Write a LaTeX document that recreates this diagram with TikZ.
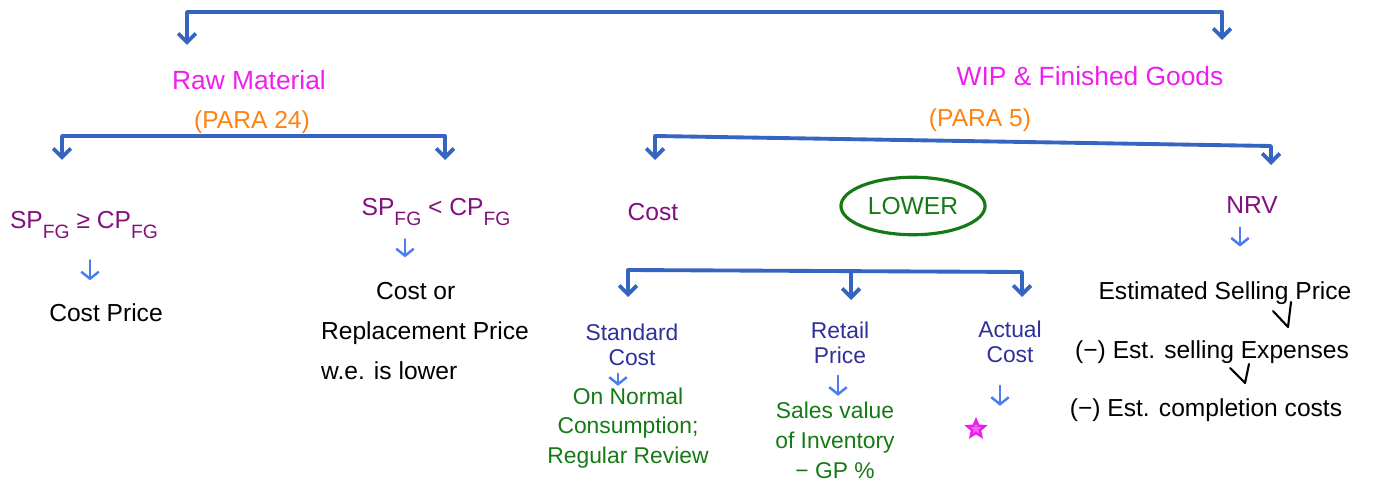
\documentclass[tikz,border=0pt]{standalone}
\usepackage{fontspec}
\setmainfont{Liberation Sans}
\usetikzlibrary{arrows.meta,shapes.geometric,calc}
\definecolor{lineblue}{HTML}{3565C0}
\definecolor{tipblue}{HTML}{4A7CF2}
\definecolor{headmag}{HTML}{EE1FEE}
\definecolor{paraorg}{HTML}{FF8210}
\definecolor{condpur}{HTML}{82107E}
\definecolor{methind}{HTML}{30309A}
\definecolor{notegrn}{HTML}{157A15}
\newcommand{\fgsub}{\raisebox{-0.7ex}{\fontsize{11}{12}\selectfont FG}}

\tikzset{
  brk/.style={draw=lineblue, line width=2.2pt, line cap=round, line join=round,
    {Straight Barb[length=5pt,width=10pt]}-{Straight Barb[length=5pt,width=10pt]}},
  brkone/.style={draw=lineblue, line width=2.2pt, line cap=round,
    -{Straight Barb[length=5pt,width=10pt]}},
  hop/.style={draw=tipblue, line width=1.4pt, line cap=round,
    -{Straight Barb[length=4pt,width=10pt]}},
  tickmk/.style={draw=black, line width=1.2pt, line cap=round, line join=round},
  headtxt/.style={text=headmag, inner sep=1pt, font=\fontsize{15}{18}\selectfont},
  paratxt/.style={text=paraorg, inner sep=1pt, font=\fontsize{14}{17}\selectfont},
  condtxt/.style={text=condpur, inner sep=1pt, font=\fontsize{14}{17}\selectfont},
  bodytxt/.style={text=black, inner sep=1pt, font=\fontsize{14}{23}\selectfont},
  methtxt/.style={text=methind, inner sep=1pt, align=center, font=\fontsize{13}{14}\selectfont},
  notetxt/.style={text=notegrn, inner sep=1pt, align=center, font=\fontsize{13}{17}\selectfont},
  lowtxt/.style={text=notegrn, ellipse, draw=notegrn, line width=1.8pt,
    minimum width=2.3cm, minimum height=1.15cm, font=\fontsize{14}{17}\selectfont},
}

\begin{document}
\begin{tikzpicture}[x=0.02cm,y=-0.02cm]
\useasboundingbox (0,0) rectangle (1378,489);

% headings
\node[headtxt] (rm) at (249,80) {Raw Material};
\node[paratxt] (rmpara) at (252,122) {(PARA 24)};
\node[headtxt] (wip) at (1090,76) {WIP \& Finished Goods};
\node[paratxt] (wippara) at (980,120) {(PARA 5)};

% raw material side
\node[condtxt] (c1) at (84,225) {SP\fgsub{} ≥ CP\fgsub};
\node[condtxt] (c2) at (436,212) {SP\fgsub{} < CP\fgsub};
\node[bodytxt] (cp) at (106,313) {Cost Price};
\node[bodytxt, align=left] (cor) at (425,331) {\hspace*{1.1cm}Cost or\\Replacement Price\\w.e. is lower};

% wip side
\node[condtxt] (cost) at (653,212) {Cost};
\node[lowtxt] (low) at (913,206) {LOWER};
\node[condtxt] (nrv) at (1252,205) {NRV};
\node[bodytxt] (esp) at (1225,293) {Estimated Selling Price};
\node[bodytxt] (sub1) at (1212,352) {(−) Est. selling Expenses};
\node[bodytxt] (sub2) at (1206,410) {(−) Est. completion costs};

\node[methtxt] (sc) at (632,345) {Standard\\Cost};
\node[methtxt] (rp) at (840,343) {Retail\\Price};
\node[methtxt] (ac) at (1010,342) {Actual\\Cost};
\node[notetxt] (scnote) at (628,428) {On Normal\\Consumption;\\Regular Review};
\node[notetxt] (rpnote) at (835,440) {Sales value\\of Inventory\\− GP \%};
\node[star, star points=5, star point ratio=2.2, draw=headmag, fill=headmag!70,
  line width=1.4pt, minimum size=0.36cm, inner sep=0pt] (mark) at (976,429) {};

% brackets
\coordinate (top) at (700,12);
\coordinate (rmtip) at (187,45);
\coordinate (wiptip) at (1222,40);
\draw[brk] (rmtip) |- (top) -| (wiptip);

\coordinate (rmbar) at (250,136);
\coordinate (c1tip) at (62,160);
\coordinate (c2tip) at (445,160);
\draw[brk] (c1tip) |- (rmbar) -| (c2tip);

\coordinate (wipl) at (655,136);
\coordinate (wipr) at (1271,146);
\coordinate (costtip) at (655,160);
\coordinate (nrvtip) at (1271,165);
\draw[brk] (costtip) -- (wipl) -- (wipr) -- (nrvtip);

\coordinate (lowl) at (628,270);
\coordinate (lowm) at (851,271);
\coordinate (lowr) at (1022,272);
\coordinate (sctip) at (628,297);
\coordinate (rptip) at (851,300);
\coordinate (actip) at (1022,297);
\draw[brk] (sctip) -- (lowl) -- (lowr) -- (actip);
\draw[brkone] (lowm) -- (rptip);

% small arrows
\draw[hop] ([shift={(6,20)}]c1.south) -- ++(0,20);
\draw[hop] ([shift={(-31,12)}]c2.south) -- ++(0,18);
\draw[hop] ([shift={(-12,12)}]nrv.south) -- ++(0,19);
\draw[hop] ([shift={(-14,6)}]sc.south) -- ++(0,12);
\draw[hop] ([shift={(-2,10)}]rp.south) -- ++(0,20);
\draw[hop] ([shift={(-10,21)}]ac.south) -- ++(0,20);

% insertion marks
\draw[tickmk] (1273,311) -- (1288,327) -- (1291,302);
\draw[tickmk] (1230,368) -- (1245,383) -- (1249,364);
\end{tikzpicture}
\end{document}
